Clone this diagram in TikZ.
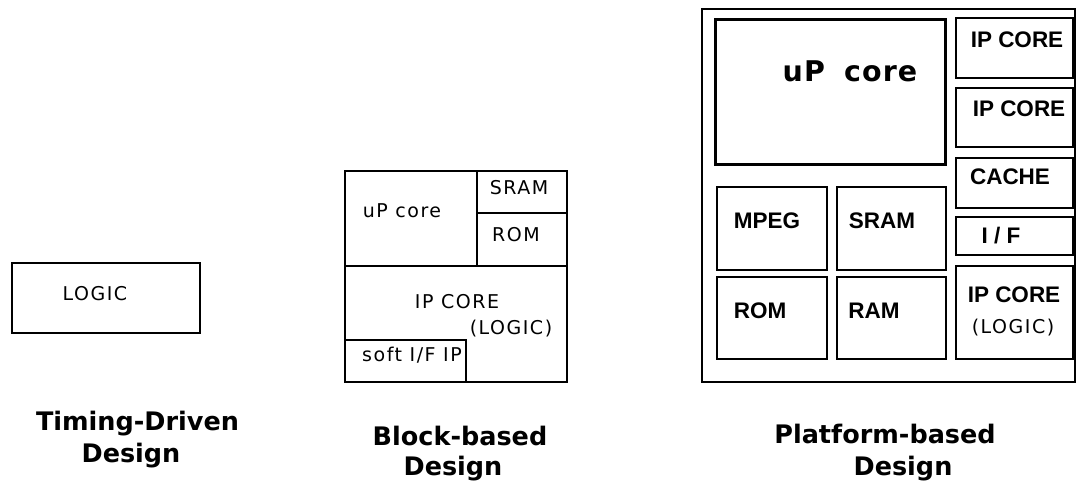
\documentclass[tikz,border=0pt]{standalone}
\usepackage{fontspec}
\setmainfont{DejaVu Sans}
\newfontfamily\thinfont[LetterSpace=8]{DejaVu Sans}
\newfontfamily\labfont{Liberation Sans}
\newfontfamily\bigfont[LetterSpace=4]{DejaVu Sans}
\newfontfamily\titlefont{DejaVu Sans}
\begin{document}
\begin{tikzpicture}[x=1pt,y=-1pt,
  box/.style={draw=black,line width=1.6pt},
  corebox/.style={draw=black,line width=3pt},
  thin/.style={inner sep=0pt,anchor=base,font=\thinfont\fontsize{19}{22}\selectfont},
  lab/.style={inner sep=0pt,anchor=base,font=\labfont\bfseries\fontsize{22.5}{26}\selectfont},
  biglab/.style={inner sep=0pt,anchor=base,font=\bigfont\bfseries\fontsize{28.5}{32}\selectfont},
  title/.style={inner sep=0pt,anchor=base,font=\titlefont\bfseries\fontsize{25.5}{30}\selectfont}]
\useasboundingbox[fill=white] (0,0) rectangle (1078,489);

% Timing-driven design: a single logic block
\draw[box] (12,263) rectangle (200,333);
\node[thin] (logic) at (95,300) {LOGIC};
\node[title] (td1) at (137.5,430) {Timing-Driven};
\node[title] (td2) at (131,462) {Design};

% Block-based design: one die split into blocks
\draw[box] (345,171) rectangle (567,382);
\draw[box] (477,171) -- (477,266);
\draw[box] (345,266) -- (567,266);
\draw[box] (477,213) -- (567,213);
\draw[box] (345,340) -- (466,340) -- (466,382);
\node[thin] (bup) at (402,218) {uP core};
\node[thin] (bsram) at (519,195) {SRAM};
\node[thin] (brom) at (516,241) {ROM};
\node[thin] (bip) at (457,308) {IP CORE};
\node[thin] (blogic) at (511,334) {(LOGIC)};
\node[thin] (bsoft) at (412,361) {soft I/F IP};
\node[title] (bb1) at (460,445) {Block-based};
\node[title] (bb2) at (453,475) {Design};

% Platform-based design: processor core plus peripheral IP
\draw[box] (702,9) rectangle (1075,382);
\draw[corebox] (715,20) rectangle (945,165);
\draw[box] (956,18) rectangle (1073,78);
\draw[box] (956,88) rectangle (1073,147);
\draw[box] (956,158) rectangle (1073,208);
\draw[box] (956,217) rectangle (1073,255);
\draw[box] (956,266) rectangle (1073,359);
\draw[box] (717,187) rectangle (827,270);
\draw[box] (837,187) rectangle (946,270);
\draw[box] (717,277) rectangle (827,359);
\draw[box] (837,277) rectangle (946,359);
\node[biglab] (pup) at (850,82) {uP\hspace{19pt}core};
\node[lab] (pip1) at (1017,48) {IP CORE};
\node[lab] (pip2) at (1019,117) {IP CORE};
\node[lab] (pcache) at (1010,185) {CACHE};
\node[lab] (pif) at (1001,243) {I / F};
\node[lab] (pip3) at (1014,302) {IP CORE};
\node[thin] (plogic) at (1013,333) {(LOGIC)};
\node[lab] (pmpeg) at (767,228) {MPEG};
\node[lab] (psram) at (882,228) {SRAM};
\node[lab] (prom) at (760,318) {ROM};
\node[lab] (pram) at (874,318) {RAM};
\node[title] (pb1) at (885,443) {Platform-based};
\node[title] (pb2) at (903,475) {Design};
\end{tikzpicture}
\end{document}
